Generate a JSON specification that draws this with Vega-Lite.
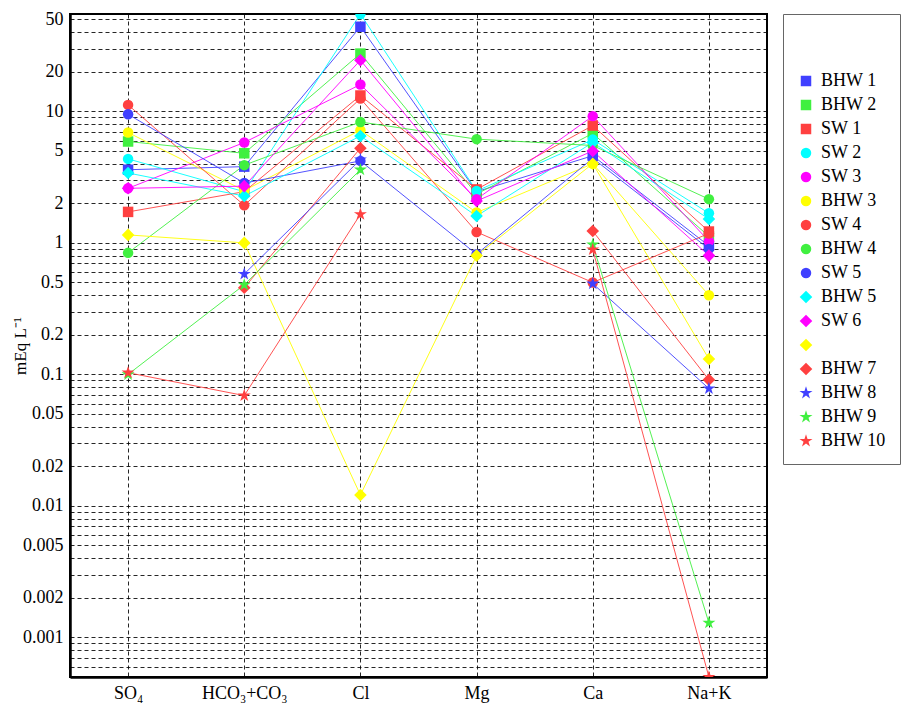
{
  "$schema": "https://vega.github.io/schema/vega-lite/v6.json",
  "width": 697,
  "height": 663,
  "autosize": {"type": "none"},
  "padding": {"left": 70, "top": 14, "right": 145, "bottom": 27},
  "background": "white",
  "config": {
    "font": "Liberation Serif",
    "view": {"stroke": "#000", "strokeWidth": 2},
    "axis": {
      "labelFont": "Liberation Serif", "labelFontSize": 18, "labelColor": "#000",
      "titleFont": "Liberation Serif", "titleFontWeight": "normal", "titleColor": "#000",
      "gridColor": "#000", "gridDash": [4, 3], "gridOpacity": 0.85, "gridWidth": 1,
      "domainColor": "#000", "domainWidth": 2.5, "ticks": false
    }
  },
  "data": {"values": [
    {"s": "BHW 1", "ion": "SO₄", "v": 3.6}, {"s": "BHW 1", "ion": "HCO₃+CO₃", "v": 3.8}, {"s": "BHW 1", "ion": "Cl", "v": 44}, {"s": "BHW 1", "ion": "Mg", "v": 2.45}, {"s": "BHW 1", "ion": "Ca", "v": 4.6}, {"s": "BHW 1", "ion": "Na+K", "v": 0.95},
    {"s": "BHW 2", "ion": "SO₄", "v": 5.9}, {"s": "BHW 2", "ion": "HCO₃+CO₃", "v": 4.8}, {"s": "BHW 2", "ion": "Cl", "v": 27.5}, {"s": "BHW 2", "ion": "Mg", "v": 2.35}, {"s": "BHW 2", "ion": "Ca", "v": 6.8}, {"s": "BHW 2", "ion": "Na+K", "v": 1.12},
    {"s": "SW 1", "ion": "SO₄", "v": 1.72}, {"s": "SW 1", "ion": "HCO₃+CO₃", "v": 2.45}, {"s": "SW 1", "ion": "Cl", "v": 13.2}, {"s": "SW 1", "ion": "Mg", "v": 2.55}, {"s": "SW 1", "ion": "Ca", "v": 7.8}, {"s": "SW 1", "ion": "Na+K", "v": 1.22},
    {"s": "SW 2", "ion": "SO₄", "v": 4.35}, {"s": "SW 2", "ion": "HCO₃+CO₃", "v": 2.45}, {"s": "SW 2", "ion": "Cl", "v": 55}, {"s": "SW 2", "ion": "Mg", "v": 2.48}, {"s": "SW 2", "ion": "Ca", "v": 6.1}, {"s": "SW 2", "ion": "Na+K", "v": 1.68},
    {"s": "SW 3", "ion": "SO₄", "v": 2.6}, {"s": "SW 3", "ion": "HCO₃+CO₃", "v": 5.8}, {"s": "SW 3", "ion": "Cl", "v": 16}, {"s": "SW 3", "ion": "Mg", "v": 2.15}, {"s": "SW 3", "ion": "Ca", "v": 9.2}, {"s": "SW 3", "ion": "Na+K", "v": 1.03},
    {"s": "BHW 3", "ion": "SO₄", "v": 6.9}, {"s": "BHW 3", "ion": "HCO₃+CO₃", "v": 2.5}, {"s": "BHW 3", "ion": "Cl", "v": 7.2}, {"s": "BHW 3", "ion": "Mg", "v": 1.7}, {"s": "BHW 3", "ion": "Ca", "v": 4.0}, {"s": "BHW 3", "ion": "Na+K", "v": 0.4},
    {"s": "SW 4", "ion": "SO₄", "v": 11.2}, {"s": "SW 4", "ion": "HCO₃+CO₃", "v": 1.93}, {"s": "SW 4", "ion": "Cl", "v": 12.5}, {"s": "SW 4", "ion": "Mg", "v": 1.21}, {"s": "SW 4", "ion": "Ca", "v": 0.5}, {"s": "SW 4", "ion": "Na+K", "v": 1.18},
    {"s": "BHW 4", "ion": "SO₄", "v": 0.84}, {"s": "BHW 4", "ion": "HCO₃+CO₃", "v": 3.9}, {"s": "BHW 4", "ion": "Cl", "v": 8.3}, {"s": "BHW 4", "ion": "Mg", "v": 6.15}, {"s": "BHW 4", "ion": "Ca", "v": 5.5}, {"s": "BHW 4", "ion": "Na+K", "v": 2.15},
    {"s": "SW 5", "ion": "SO₄", "v": 9.5}, {"s": "SW 5", "ion": "HCO₃+CO₃", "v": 2.85}, {"s": "SW 5", "ion": "Cl", "v": 4.2}, {"s": "SW 5", "ion": "Mg", "v": 0.82}, {"s": "SW 5", "ion": "Ca", "v": 4.4}, {"s": "SW 5", "ion": "Na+K", "v": 0.9},
    {"s": "BHW 5", "ion": "SO₄", "v": 3.4}, {"s": "BHW 5", "ion": "HCO₃+CO₃", "v": 2.27}, {"s": "BHW 5", "ion": "Cl", "v": 6.5}, {"s": "BHW 5", "ion": "Mg", "v": 1.6}, {"s": "BHW 5", "ion": "Ca", "v": 5.8}, {"s": "BHW 5", "ion": "Na+K", "v": 1.52},
    {"s": "SW 6", "ion": "SO₄", "v": 2.6}, {"s": "SW 6", "ion": "HCO₃+CO₃", "v": 2.7}, {"s": "SW 6", "ion": "Cl", "v": 24.5}, {"s": "SW 6", "ion": "Mg", "v": 2.08}, {"s": "SW 6", "ion": "Ca", "v": 5.0}, {"s": "SW 6", "ion": "Na+K", "v": 0.8},
    {"s": "BHW 6", "ion": "SO₄", "v": 1.15}, {"s": "BHW 6", "ion": "HCO₃+CO₃", "v": 1.0}, {"s": "BHW 6", "ion": "Cl", "v": 0.0121}, {"s": "BHW 6", "ion": "Mg", "v": 0.8}, {"s": "BHW 6", "ion": "Ca", "v": 4.0}, {"s": "BHW 6", "ion": "Na+K", "v": 0.131},
    {"s": "BHW 7", "ion": "SO₄", "v": null}, {"s": "BHW 7", "ion": "HCO₃+CO₃", "v": 0.456}, {"s": "BHW 7", "ion": "Cl", "v": 5.25}, {"s": "BHW 7", "ion": "Mg", "v": null}, {"s": "BHW 7", "ion": "Ca", "v": 1.23}, {"s": "BHW 7", "ion": "Na+K", "v": 0.091},
    {"s": "BHW 8", "ion": "SO₄", "v": null}, {"s": "BHW 8", "ion": "HCO₃+CO₃", "v": 0.58}, {"s": "BHW 8", "ion": "Cl", "v": 4.3}, {"s": "BHW 8", "ion": "Mg", "v": null}, {"s": "BHW 8", "ion": "Ca", "v": 0.49}, {"s": "BHW 8", "ion": "Na+K", "v": 0.078},
    {"s": "BHW 9", "ion": "SO₄", "v": 0.1}, {"s": "BHW 9", "ion": "HCO₃+CO₃", "v": 0.48}, {"s": "BHW 9", "ion": "Cl", "v": 3.6}, {"s": "BHW 9", "ion": "Mg", "v": null}, {"s": "BHW 9", "ion": "Ca", "v": 0.97}, {"s": "BHW 9", "ion": "Na+K", "v": 0.00129},
    {"s": "BHW 10", "ion": "SO₄", "v": 0.103}, {"s": "BHW 10", "ion": "HCO₃+CO₃", "v": 0.069}, {"s": "BHW 10", "ion": "Cl", "v": 1.65}, {"s": "BHW 10", "ion": "Mg", "v": null}, {"s": "BHW 10", "ion": "Ca", "v": 0.89}, {"s": "BHW 10", "ion": "Na+K", "v": 0.0005}
  ]},
  "encoding": {
    "x": {
      "field": "ion", "type": "nominal",
      "sort": ["SO₄", "HCO₃+CO₃", "Cl", "Mg", "Ca", "Na+K"],
      "scale": {"type": "point", "padding": 0.5},
      "axis": {"title": null, "labelAngle": 0, "labelPadding": 7, "grid": true}
    },
    "y": {
      "field": "v", "type": "quantitative",
      "scale": {"type": "log", "domain": [0.0005, 55], "nice": false},
      "axis": {
        "title": "mEq L⁻¹", "titleFontSize": 17,
        "titleX": -50, "titleY": 331.5, "titleAngle": -90, "titleAlign": "center", "titleBaseline": "middle",
        "grid": true, "labelPadding": 7,
        "values": [0.0006, 0.0007, 0.0008, 0.0009, 0.001, 0.002, 0.003, 0.004, 0.005, 0.006, 0.007, 0.008, 0.009, 0.01, 0.02, 0.03, 0.04, 0.05, 0.06, 0.07, 0.08, 0.09, 0.1, 0.2, 0.3, 0.4, 0.5, 0.6, 0.7, 0.8, 0.9, 1, 2, 3, 4, 5, 6, 7, 8, 9, 10, 20, 30, 40, 50],
        "labelExpr": "indexof([0.001, 0.002, 0.005, 0.01, 0.02, 0.05, 0.1, 0.2, 0.5, 1, 2, 5, 10, 20, 50], datum.value) >= 0 ? format(datum.value, '~g') : ''"
      }
    },
    "color": {
      "field": "s", "type": "nominal",
      "scale": {
        "domain": ["BHW 1", "BHW 2", "SW 1", "SW 2", "SW 3", "BHW 3", "SW 4", "BHW 4", "SW 5", "BHW 5", "SW 6", "BHW 6", "BHW 7", "BHW 8", "BHW 9", "BHW 10"],
        "range": ["#4040ff", "#40f040", "#ff4040", "#00ffff", "#ff00ff", "#ffff00", "#ff4040", "#40f040", "#4040ff", "#00ffff", "#ff00ff", "#ffff00", "#ff4040", "#4040ff", "#40f040", "#ff4040"]
      },
      "legend": {
        "title": " ", "titleFontSize": 16, "titlePadding": 28, "orient": "right", "offset": 16, "padding": 14,
        "labelFont": "Liberation Serif", "labelFontSize": 18, "labelColor": "#000", "labelOffset": 6,
        "symbolSize": 110, "rowPadding": 6, "strokeColor": "#666", "fillColor": "white",
        "symbolOpacity": 1, "symbolStrokeWidth": 0,
        "labelExpr": "datum.label == 'BHW 6' ? '' : datum.label"
      }
    }
  },
  "layer": [
    {
      "mark": {"type": "line", "strokeWidth": 1, "opacity": 0.9, "invalid": "break-paths-filter-domains"},
      "encoding": {"detail": {"field": "s"}, "order": {"value": null}}
    },
    {
      "mark": {"type": "point", "filled": true, "opacity": 1, "size": 110, "clip": true, "invalid": "break-paths-filter-domains"},
      "encoding": {
        "shape": {
          "field": "s", "type": "nominal",
          "scale": {
            "domain": ["BHW 1", "BHW 2", "SW 1", "SW 2", "SW 3", "BHW 3", "SW 4", "BHW 4", "SW 5", "BHW 5", "SW 6", "BHW 6", "BHW 7", "BHW 8", "BHW 9", "BHW 10"],
            "range": ["square", "square", "square", "circle", "circle", "circle", "circle", "circle", "circle",
              "M-1.2,0L0,-1.2L1.2,0L0,1.2Z", "M-1.2,0L0,-1.2L1.2,0L0,1.2Z", "M-1.2,0L0,-1.2L1.2,0L0,1.2Z", "M-1.2,0L0,-1.2L1.2,0L0,1.2Z",
              "M0,-1.3L0.29,-0.4L1.24,-0.4L0.47,0.15L0.76,1.05L0,0.5L-0.76,1.05L-0.47,0.15L-1.24,-0.4L-0.29,-0.4Z",
              "M0,-1.3L0.29,-0.4L1.24,-0.4L0.47,0.15L0.76,1.05L0,0.5L-0.76,1.05L-0.47,0.15L-1.24,-0.4L-0.29,-0.4Z",
              "M0,-1.3L0.29,-0.4L1.24,-0.4L0.47,0.15L0.76,1.05L0,0.5L-0.76,1.05L-0.47,0.15L-1.24,-0.4L-0.29,-0.4Z"]
          },
          "legend": {
            "title": " ", "titleFontSize": 16, "titlePadding": 28, "orient": "right", "offset": 16, "padding": 14,
            "labelFont": "Liberation Serif", "labelFontSize": 18, "labelColor": "#000", "labelOffset": 6,
            "symbolSize": 110, "rowPadding": 6, "strokeColor": "#666", "fillColor": "white",
            "symbolOpacity": 1, "symbolStrokeWidth": 0,
            "labelExpr": "datum.label == 'BHW 6' ? '' : datum.label"
          }
        }
      }
    }
  ]
}
